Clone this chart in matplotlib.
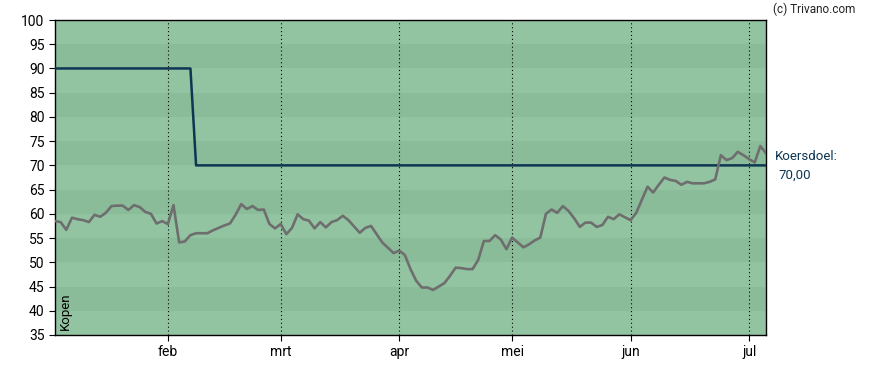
import numpy as np
import pandas as pd
import matplotlib
matplotlib.use("Agg")
import matplotlib.pyplot as plt

plt.rcParams['font.family'] = ['Roboto', 'DejaVu Sans']

# handelsdagen jan - jul 2025 (Euronext, zonder feestdagen)
dates = pd.bdate_range("2025-01-06", "2025-07-04")
dates = dates[~dates.isin(pd.to_datetime(["2025-04-18", "2025-04-21", "2025-05-01"]))]

koers = [
    58.5, 58.3, 56.7, 59.2, 58.9, 58.7, 58.3, 59.8, 59.4, 60.2,
    61.6, 61.7, 61.7, 60.8, 61.8, 61.4, 60.4, 60.0, 58.0, 58.5,
    57.9, 61.8, 54.1, 54.3, 55.6, 56.0, 56.0, 56.0, 56.6, 57.1,
    57.6, 58.0, 59.8, 62.0, 61.0, 61.6, 60.8, 60.9, 57.9, 57.0,
    57.9, 55.8, 57.1, 59.9, 58.9, 58.6, 57.0, 58.3, 57.2, 58.3,
    58.7, 59.6, 58.7, 57.4, 56.1, 57.1, 57.5, 55.8, 54.1, 53.0,
    51.9, 52.4, 51.5, 48.6, 46.2, 44.8, 44.8, 44.3, 45.0, 45.7,
    47.2, 48.9, 48.8, 48.6, 48.6, 50.5, 54.4, 54.4, 55.6, 54.7,
    52.7, 55.1, 54.1, 53.1, 53.7, 54.5, 55.1, 60.0, 60.9, 60.2,
    61.6, 60.6, 59.1, 57.3, 58.2, 58.2, 57.3, 57.7, 59.4, 58.9,
    59.9, 59.3, 58.7, 60.2, 62.9, 65.6, 64.4, 66.0, 67.5, 67.0,
    66.8, 66.0, 66.6, 66.3, 66.3, 66.3, 66.6, 67.1, 72.1, 71.1,
    71.5, 72.8, 72.1, 71.3, 70.6, 74.0, 72.5,
]
# koersdoel: 90 tot begin februari, daarna 70
koersdoel = [90.0] * 25 + [70.0] * (len(koers) - 25)

maanden = ["feb", "mrt", "apr", "mei", "jun", "jul"]

x = np.arange(len(koers))
month_pos = [i for i in range(1, len(dates)) if dates[i].month != dates[i - 1].month]

fig = plt.figure(figsize=(8.88, 3.70), dpi=100)
ax = fig.add_axes([55 / 888, 1 - 335 / 370, (766 - 55) / 888, (335 - 20) / 370])

# achtergrondbanden per 5 punten
for lo in range(35, 100, 5):
    kleur = "#93c4a2" if (lo // 5) % 2 == 1 else "#8bbc9a"
    ax.axhspan(lo, lo + 5, color=kleur, zorder=0, lw=0)

for p in month_pos:
    ax.axvline(p, color="black", ls=(0, (1, 2.5)), lw=0.8, zorder=1)

# trap-lijn voor koersdoel (verticale sprong tussen twee dagen)
ax.plot(x, koersdoel, color="#0e3552", lw=1.8, zorder=3)
ax.plot(x, koers, color="#6e6e6e", lw=1.9, zorder=4)

ax.set_xlim(0, len(koers) - 1)
ax.set_ylim(35, 100)
ax.set_yticks(range(35, 101, 5))
ax.set_xticks(month_pos)
ax.set_xticklabels(maanden)
ax.tick_params(axis="both", labelsize=10, length=4, direction="out", colors="black")
for s in ax.spines.values():
    s.set_color("black")
    s.set_linewidth(1.0)

ax.text(0.005, 0.015, "Kopen", rotation=90, transform=ax.transAxes,
        fontsize=9.5, ha="left", va="bottom", color="black")

fig.text(773 / 888, 1 - 9 / 370, "(c) Trivano.com", fontsize=8.5, ha="left", va="center", color="#222222")
fig.text(775 / 888, 1 - 157 / 370, "Koersdoel:", fontsize=9.5, ha="left", va="center", color="#0e3552")
fig.text(778 / 888, 1 - 175 / 370, "70,00", fontsize=9.5, ha="left", va="center", color="#0e3552")

fig.savefig("out.png", dpi=100)
